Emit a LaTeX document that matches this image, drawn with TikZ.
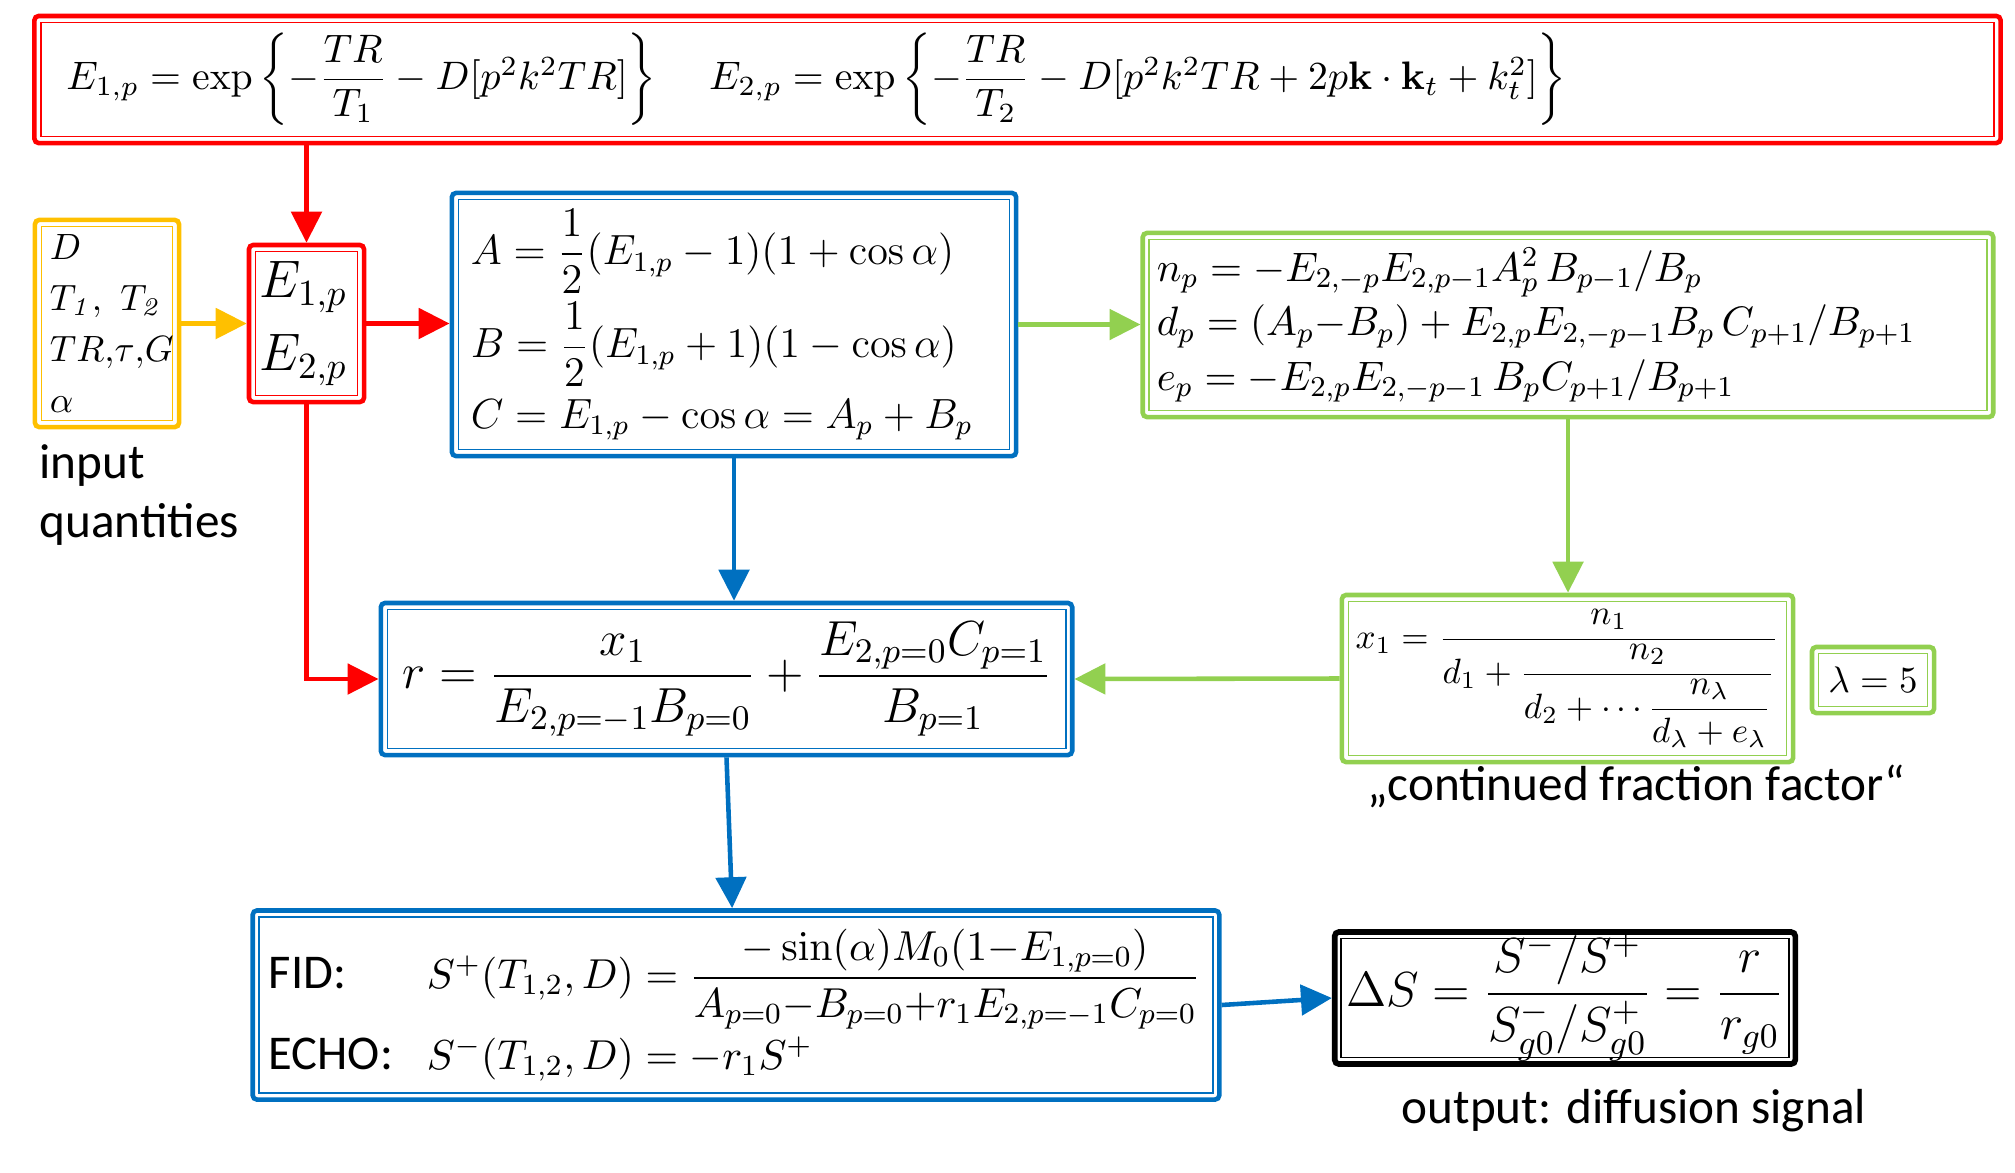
\RequirePackage{fix-cm}
\documentclass[tikz,border=0pt]{standalone}
\usepackage{amsmath}
\usepackage[no-math]{fontspec}
\setmainfont{Carlito}
\usetikzlibrary{arrows.meta}
\definecolor{cred}{HTML}{FF0000}
\definecolor{corange}{HTML}{FFC000}
\definecolor{cblue}{HTML}{0070C0}
\definecolor{cgreen}{HTML}{92D050}
\tikzset{
 dbox/.style={draw=#1, line width=1.3pt, rounded corners=1.2pt, inner ysep=0pt,
   path picture={\draw[#1, line width=0.45pt, sharp corners]
     ([shift={(1.85pt,-1.85pt)}]path picture bounding box.north west) rectangle
     ([shift={(-1.85pt,1.85pt)}]path picture bounding box.south east);}},
 arr/.style={draw=#1, line width=1.3pt, -{Triangle[length=8.8pt,width=8.6pt]}},
 fs/.style 2 args={font=\fontsize{#1}{#2}\selectfont},
 lbl/.style={font=\fontsize{14}{16}\selectfont, inner sep=0pt},
}
\begin{document}
\begin{tikzpicture}[x=0.01cm, y=-0.01cm]
\useasboundingbox (0,0) rectangle (2015,1172);

\node[dbox=cred, minimum height=1.27cm, inner xsep=0.32cm, text width=19.01cm, align=left, fs={11.3}{15}] (top) at (1017.5,79.5)
 {$E_{1,p}=\exp\left\{-\dfrac{TR}{T_1}-D[p^2k^2TR]\right\}\hspace{13pt}E_{2,p}=\exp\left\{-\dfrac{TR}{T_2}-D[p^2k^2TR+2p\mathbf{k}\cdot\mathbf{k}_t+k_t^2]\right\}$};

\node[dbox=corange, minimum height=2.07cm, inner xsep=0.15cm, text width=1.14cm, align=left, fs={10.4}{14.5}] (inp) at (107,323.5)
 {$D$\\$T_{\mathit{1}},\ T_{\mathit{2}}$\\$TR{,}\tau{,}G$\\$\alpha$};

\node[dbox=cred, minimum height=1.57cm, inner xsep=0.11cm, text width=0.93cm, align=left, fs={15}{20.8}] (E) at (306.5,323.5)
 {$E_{1,p}$\\$E_{2,p}$};

\node[dbox=cblue, minimum height=2.63cm, inner xsep=0.19cm, text width=5.26cm, align=left, fs={12}{26.5}] (abc) at (734,324.5)
 {$A=\dfrac{1}{2}(E_{1,p}-1)(1+\cos\alpha)$\\
  $B=\dfrac{1}{2}(E_{1,p}+1)(1-\cos\alpha)$\\[-6.5pt]
  $C=E_{1,p}-\cos\alpha=A_p+B_p$};

\node[dbox=cgreen, minimum height=1.84cm, inner xsep=0.14cm, text width=8.22cm, align=left, fs={11.7}{15.4}] (nde) at (1568,325)
 {$n_p=-E_{2,-p}E_{2,p-1}A_p^2\,B_{p-1}/B_p$\\
  $d_p=(A_p{-}B_p)+E_{2,p}E_{2,-p-1}B_p\,C_{p+1}/B_{p+1}$\\
  $e_p=-E_{2,p}E_{2,-p-1}\,B_pC_{p+1}/B_{p+1}$};

\node[dbox=cblue, minimum width=6.91cm, minimum height=1.52cm, fs={14}{17}] (r) at (726.5,679)
 {$r=\dfrac{x_1}{E_{2,p=-1}B_{p=0}}+\dfrac{E_{2,p=0}C_{p=1}}{B_{p=1}}$};

\node[dbox=cgreen, minimum width=4.51cm, minimum height=1.67cm, fs={10}{12}] (x1) at (1567.5,678.5)
 {$x_1=\dfrac{n_1}{d_1+\dfrac{n_2}{d_2+\cdots\dfrac{n_\lambda}{d_\lambda+e_\lambda}}}$};

\node[dbox=cgreen, minimum width=1.22cm, minimum height=0.66cm, fs={10.5}{12}] (lam) at (1873,680) {$\lambda=5$};

\node[dbox=cblue, minimum height=1.89cm, inner xsep=0.16cm, text width=9.34cm, align=left, fs={11.9}{23}] (fid) at (736,1005)
 {\makebox[45pt][l]{\fontsize{13.8}{16}\selectfont FID:}$S^+(T_{1,2},D)=\dfrac{-\sin(\alpha)M_0(1{-}E_{1,p=0})}{A_{p=0}{-}B_{p=0}{+}r_1E_{2,p=-1}C_{p=0}}$\\
  \makebox[45pt][l]{\fontsize{13.8}{16}\selectfont ECHO:}$S^-(T_{1,2},D)=-r_1S^+$};

\node[dbox=black, line width=1.6pt, minimum width=4.5cm, minimum height=1.32cm, fs={14}{18}] (ds) at (1565,998)
 {$\Delta S=\dfrac{S^-/S^+}{S^-_{g0}/S^+_{g0}}=\dfrac{r}{r_{g0}}$};

\node[lbl, anchor=base west] (in1) at (39,478) {input};
\node[lbl, anchor=base west] (in2) at (39,537) {quantities};
\node[lbl, anchor=base] (cff) at (1636,800) {„continued fraction factor“};
\node[lbl, anchor=base] (outp) at (1634,1123) {output: diffusion signal};

\draw[arr=cred] (top.south -| E.north) -- (E.north);
\draw[arr=corange] (inp.east) -- (E.west);
\draw[arr=cred] (E.east) -- (E.east -| abc.west);
\draw[arr=cred] (E.south) |- (r.west);
\draw[arr=cgreen] (abc.east) -- (abc.east -| nde.west);
\draw[arr=cgreen] (nde.south) -- (nde.south |- x1.north);
\draw[arr=cgreen] (x1.west) -- (r.east);
\draw[arr=cblue] (abc.south) -- (abc.south |- r.north);
\draw[arr=cblue] (r.south) -- ([xshift=-1.1pt]fid.north);
\draw[arr=cblue] (fid.east) -- (ds.west);
\end{tikzpicture}
\end{document}
